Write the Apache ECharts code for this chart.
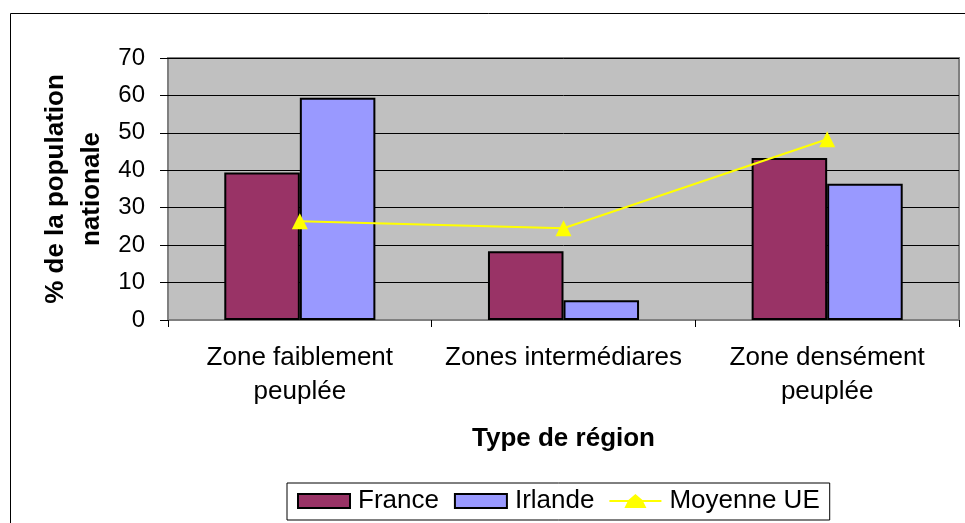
<!DOCTYPE html>
<html><head><meta charset="utf-8">
<script src="https://cdn.jsdelivr.net/npm/echarts@6/dist/echarts.min.js"></script>
<style>html,body{margin:0;padding:0;background:#fff}#c{width:965px;height:523px}</style>
</head><body><div id="c"></div>
<script>
const categories = ["Zone faiblement\npeuplée", "Zones intermédiares", "Zone densément\npeuplée"];
const france = [39.4, 18.4, 43.3];
const irlande = [59.4, 5.3, 36.4];
const moyenneUE = [26.4, 24.5, 48.3];
const yTicks = { min: 0, max: 70, interval: 10 };

const FONT = "Liberation Sans, Arial, sans-serif";
const chart = echarts.init(document.getElementById('c'), null, { renderer: 'canvas' });
chart.setOption({
  animation: false,
  backgroundColor: '#fff',
  graphic: [{
    type: 'rect', shape: { x: 10.5, y: 13.5, width: 1000, height: 600 },
    style: { fill: 'none', stroke: '#000', lineWidth: 1 }, z: -10, silent: true
  }],
  grid: { left: 168, right: 6, top: 58, bottom: 203, show: true, backgroundColor: '#C0C0C0', borderColor: '#808080', borderWidth: 2 },
  legend: {
    left: 287, top: 483,
    padding: [5, 10, 6, 10], itemGap: 15,
    borderColor: '#000', borderWidth: 1, backgroundColor: '#fff',
    itemWidth: 52, itemHeight: 14,
    textStyle: { fontFamily: FONT, fontSize: 26, color: '#000', padding: [0, 0, 0, 3] },
    data: [
      { name: 'France', icon: 'rect', itemStyle: { borderColor: '#000', borderWidth: 2 } },
      { name: 'Irlande', icon: 'rect', itemStyle: { borderColor: '#000', borderWidth: 2 } },
      { name: 'Moyenne UE', icon: 'path://M0,6H19L26,0L33,6H52V8H34L37,14H15L18,8H0Z', itemStyle: { color: '#FFFF00' } }
    ]
  },
  xAxis: {
    type: 'category', data: categories,
    name: 'Type de région', nameLocation: 'middle', nameGap: 106, nameMoveOverlap: false,
    nameTextStyle: { fontFamily: FONT, fontSize: 26, fontWeight: 'bold', color: '#000' },
    axisLine: { lineStyle: { color: '#808080', width: 2 } },
    axisTick: { show: true, alignWithLabel: false, length: 7, lineStyle: { color: '#000', width: 1 } },
    axisLabel: { fontFamily: FONT, fontSize: 26, color: '#000', margin: 21, lineHeight: 34, interval: 0 }
  },
  yAxis: {
    type: 'value', min: yTicks.min, max: yTicks.max, interval: yTicks.interval,
    name: '% de la population\nnationale', nameLocation: 'middle', nameGap: 58, nameRotate: 90, nameMoveOverlap: false,
    nameTextStyle: { fontFamily: FONT, fontSize: 26, fontWeight: 'bold', color: '#000', lineHeight: 36 },
    axisLine: { show: false },
    axisTick: { show: true, length: 8, lineStyle: { color: '#000' } },
    axisLabel: { fontFamily: FONT, fontSize: 24, color: '#000', margin: 23 },
    splitLine: { show: true, lineStyle: { color: '#000', width: 1 } }
  },
  series: [
    { name: 'France', type: 'bar', data: france, barGap: '0%', barCategoryGap: '42.7%',
      itemStyle: { color: '#993366', borderColor: '#000', borderWidth: 2 } },
    { name: 'Irlande', type: 'bar', data: irlande,
      itemStyle: { color: '#9999FF', borderColor: '#000', borderWidth: 2 } },
    { name: 'Moyenne UE', type: 'line', data: moyenneUE, symbol: 'triangle', symbolSize: 16,
      lineStyle: { color: '#FFFF00', width: 2 }, itemStyle: { color: '#FFFF00' } }
  ]
});
</script></body></html>
